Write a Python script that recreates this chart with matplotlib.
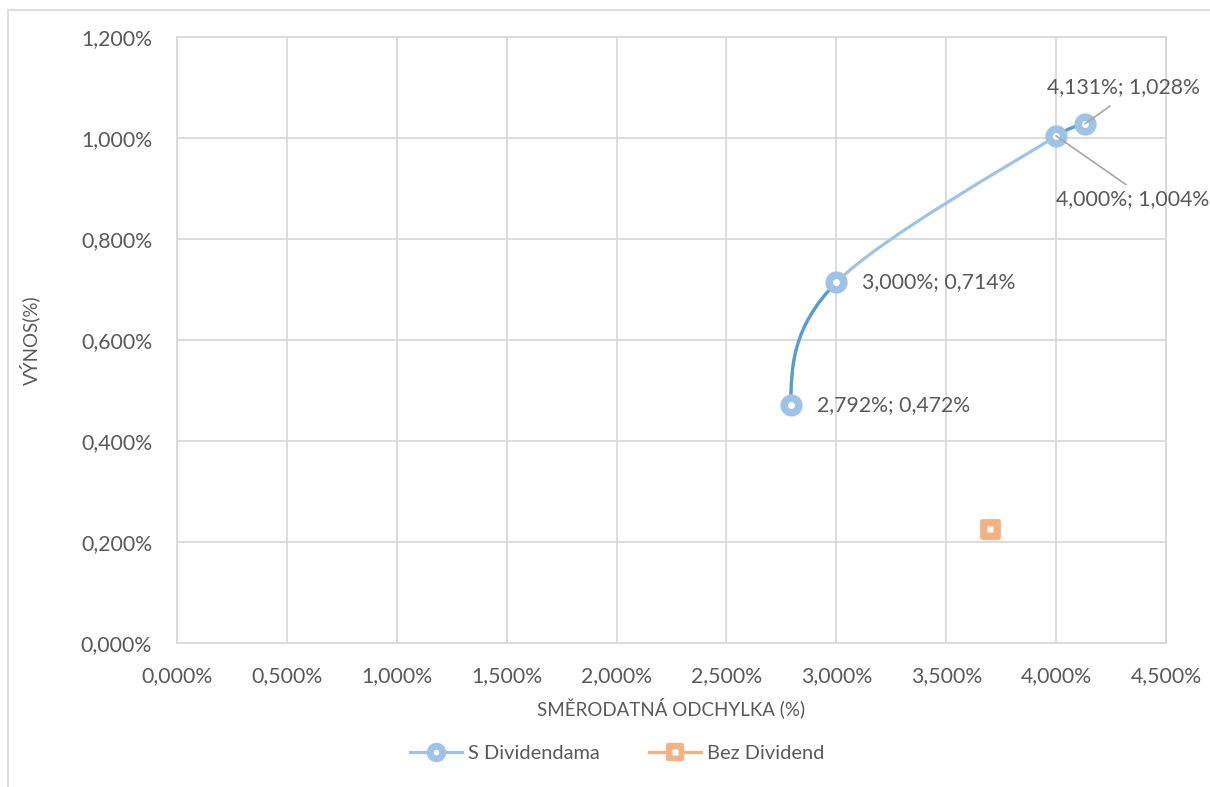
import numpy as np
import matplotlib
matplotlib.use("Agg")
import matplotlib.pyplot as plt
from matplotlib.path import Path
from matplotlib.patches import PathPatch
from matplotlib.markers import MarkerStyle
from matplotlib.lines import Line2D
from matplotlib.legend_handler import HandlerTuple
from matplotlib.ticker import FuncFormatter

plt.rcParams['font.family'] = ['Lato', 'DejaVu Sans']

# efficient frontier with dividends (std dev %, return %)
s_div_std = [2.792, 3.000, 4.000, 4.131]
s_div_ret = [0.472, 0.714, 1.004, 1.028]
# portfolio without dividends
bez_std = [3.70]
bez_ret = [0.225]

x_ticks = np.arange(0, 4.51, 0.5)
y_ticks = np.arange(0, 1.21, 0.2)

LIGHT_BLUE = '#9DC3E6'
DARK_BLUE = '#5B9BD5'
ORANGE = '#F4B183'
TEXT = '#595959'
GRID = '#D9D9D9'
FS = 15.3

fig = plt.figure(figsize=(12.1, 7.87), dpi=100)
ax = fig.add_axes([0.1463, 0.183, 0.8174, 0.770])

ax.set_xlim(0, 4.5)
ax.set_ylim(0, 1.2)
ax.set_xticks(x_ticks)
ax.set_yticks(y_ticks)
pct = FuncFormatter(lambda v, p: f"{v:.3f}%".replace('.', ','))
ax.xaxis.set_major_formatter(pct)
ax.yaxis.set_major_formatter(pct)
ax.tick_params(length=0, labelsize=FS, colors=TEXT)
ax.tick_params(axis='y', pad=18)
ax.tick_params(axis='x', pad=17)
ax.grid(True, color=GRID, lw=1.3)
ax.set_axisbelow(True)
for sp in ax.spines.values():
    sp.set_color(GRID)
    sp.set_linewidth(1.3)

ax.set_xlabel('SMĚRODATNÁ ODCHYLKA (%)', fontsize=13.5, color=TEXT, va='center')
ax.set_ylabel('VÝNOS(%)', fontsize=13.5, color=TEXT, va='center')
ax.xaxis.set_label_coords(0.5, -0.107)
ax.yaxis.set_label_coords(-0.1486, 0.5)


# smoothed line through the points, built from cubic bezier segments
def smooth_segments(xs, ys):
    pts = np.column_stack([xs, ys]).astype(float)
    scale = np.array([989 / 4.5, 505 / 1.0])  # pixel-ish aspect for handle lengths
    n = len(pts)
    tang = [None] * n
    for i in range(1, n - 1):
        tang[i] = (pts[i + 1] - pts[i - 1]) / 2
    segs = []
    for i in range(n - 1):
        d = pts[i + 1] - pts[i]
        dlen = np.linalg.norm(d * scale)

        def handle(t):
            h = t / 3
            hl = np.linalg.norm(h * scale)
            if hl > dlen / 2:
                h = h * (dlen / 2) / hl
            return h

        h_out = handle(tang[i]) if tang[i] is not None else None
        h_in = handle(tang[i + 1]) if tang[i + 1] is not None else None
        if h_out is None:
            h_out = d / 2 - h_in / 2
        if h_in is None:
            h_in = d / 2 - h_out / 2
        segs.append([pts[i], pts[i] + h_out, pts[i + 1] - h_in, pts[i + 1]])
    return segs


segs = smooth_segments(s_div_std, s_div_ret)
codes = [Path.MOVETO, Path.CURVE4, Path.CURVE4, Path.CURVE4]
for k, seg in enumerate(segs):
    ax.add_patch(PathPatch(Path(seg, codes), fill=False, ec=LIGHT_BLUE,
                           lw=2.3, capstyle='round', zorder=2))
    if k in (0, len(segs) - 1):
        ax.add_patch(PathPatch(Path(seg, codes), fill=False, ec=DARK_BLUE,
                               lw=2.3, capstyle='round', zorder=2.1))

ax.plot(s_div_std, s_div_ret, ls='none', marker='o', ms=16, mfc=LIGHT_BLUE,
        mec='none', zorder=3)
ax.plot(s_div_std, s_div_ret, ls='none', marker='o', ms=5, mfc='white',
        mec='none', zorder=3.1)

sq = MarkerStyle('s', joinstyle='round')
ax.plot(bez_std, bez_ret, ls='none', marker=sq, ms=11, mfc=ORANGE, mec=ORANGE,
        mew=3.5, zorder=3)
ax.plot(bez_std, bez_ret, ls='none', marker='s', ms=4.5, mfc='white',
        mec='none', zorder=3.1)

# data labels
def lab(x, y):
    return f"{x:.3f}%; {y:.3f}%".replace('.', ',')

for i in (0, 1):
    ax.annotate(lab(s_div_std[i], s_div_ret[i]), (s_div_std[i], s_div_ret[i]),
                xytext=(26, 0), textcoords='offset pixels', ha='left', va='center',
                fontsize=FS, color=TEXT, zorder=5)

ax.annotate(lab(s_div_std[3], s_div_ret[3]), (s_div_std[3], s_div_ret[3]),
            xytext=(38, 37), textcoords='offset pixels', ha='center', va='center',
            fontsize=FS, color=TEXT, zorder=5, annotation_clip=False,
            arrowprops=dict(arrowstyle='-', color='#A6A6A6', lw=1.2, relpos=(0.5, 0),
                            shrinkA=8, shrinkB=0))
ax.annotate(lab(s_div_std[2], s_div_ret[2]), (s_div_std[2], s_div_ret[2]),
            xytext=(76, -63), textcoords='offset pixels', ha='center', va='center',
            fontsize=FS, color=TEXT, zorder=5, annotation_clip=False,
            arrowprops=dict(arrowstyle='-', color='#A6A6A6', lw=1.2, relpos=(0.5, 1),
                            shrinkA=2, shrinkB=0))

# legend, markers with white centre
h1 = (Line2D([], [], color=LIGHT_BLUE, lw=2.3, marker='o', ms=14, mfc=LIGHT_BLUE, mec='none'),
      Line2D([], [], ls='none', marker='o', ms=4, mfc='white', mec='none'))
h2 = (Line2D([], [], color=ORANGE, lw=2.3, marker=sq, ms=10, mfc=ORANGE, mec=ORANGE, mew=3),
      Line2D([], [], ls='none', marker='s', ms=4, mfc='white', mec='none'))
leg = fig.legend([h1, h2], ['S Dividendama', 'Bez Dividend'], loc='center',
                 bbox_to_anchor=(0.51, 0.043), ncol=2, frameon=False,
                 fontsize=14.4, labelcolor=TEXT, handlelength=2.6,
                 columnspacing=2.5, handletextpad=0.3,
                 handler_map={tuple: HandlerTuple(ndivide=1, pad=0)})

# outer chart border (partially visible)
fig.add_artist(Line2D([8 / 1210, 1], [1 - 10 / 787] * 2, color=GRID, lw=1.3))
fig.add_artist(Line2D([8 / 1210] * 2, [0, 1 - 10 / 787], color=GRID, lw=1.3))

fig.savefig('out.png', dpi=100)
